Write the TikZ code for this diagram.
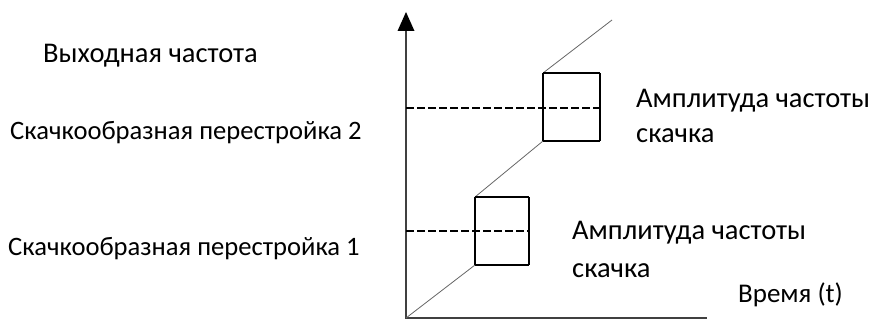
\documentclass[tikz,border=0pt]{standalone}
\usepackage{fontspec}
\setmainfont{Carlito}
\usetikzlibrary{arrows.meta}
\begin{document}
\begin{tikzpicture}[x=1pt,y=-1pt,
  axis/.style={line width=1.2pt,draw=black!75},
  ramp/.style={line width=0.8pt,draw=black!60},
  boxside/.style={line width=1.1pt,draw=black},
  boxedge/.style={line width=2pt,draw=black},
  level/.style={line width=1.8pt,draw=black,dash pattern=on 8pt off 3pt},
  lblbig/.style={anchor=base west,inner sep=0pt,font=\fontsize{28.5}{32}\selectfont},
  lblmid/.style={anchor=base west,inner sep=0pt,font=\fontsize{27}{31}\selectfont},
  lblsmall/.style={anchor=base west,inner sep=0pt,font=\fontsize{26.6}{30}\selectfont}]
\useasboundingbox (0,0) rectangle (878,321);
% axes
\coordinate (O) at (406,318);
\coordinate (ytop) at (406,30);
\coordinate (ytip) at (406,12);
\coordinate (xend) at (707,318);
\draw[axis] (ytop) -- (O) -- (xend);
\fill[black] (ytip) -- (397.5,31) -- (414.5,31) -- cycle;
% lower box
\coordinate (A1) at (475,265);
\coordinate (B1) at (529,265);
\coordinate (C1) at (529,197);
\coordinate (D1) at (475,197);
\coordinate (M1) at (529,231);
\coordinate (L1) at (406,231);
% upper box
\coordinate (A2) at (543,141);
\coordinate (B2) at (600,141);
\coordinate (C2) at (600,73);
\coordinate (D2) at (543,73);
\coordinate (M2) at (600,108);
\coordinate (L2) at (406,108);
\coordinate (E) at (612,20);
% ramps
\draw[ramp] (O) -- (A1);
\draw[ramp] (D1) -- (A2);
\draw[ramp] (D2) -- (E);
% boxes
\draw[boxside] (D1) -- (A1) (B1) -- (C1);
\draw[boxedge] (D1) -- (C1) (A1) -- (B1);
\draw[level] (L1) -- (M1);
\draw[boxside] (D2) -- (A2) (B2) -- (C2);
\draw[boxedge] (D2) -- (C2) (A2) -- (B2);
\draw[level] (L2) -- (M2);
% labels
\node[lblbig] (out) at (43,63) {Выходная частота};
\node[lblsmall] (hop2) at (10,139) {Скачкообразная перестройка 2};
\node[lblsmall] (hop1) at (8,255) {Скачкообразная перестройка 1};
\node[lblbig] (amp2a) at (636,107) {Амплитуда частоты};
\node[lblbig] (amp2b) at (636,142) {скачка};
\node[lblbig] (amp1a) at (572,239) {Амплитуда частоты};
\node[lblbig] (amp1b) at (572,277) {скачка};
\node[lblmid] (time) at (738,302) {Время (t)};
\end{tikzpicture}
\end{document}
